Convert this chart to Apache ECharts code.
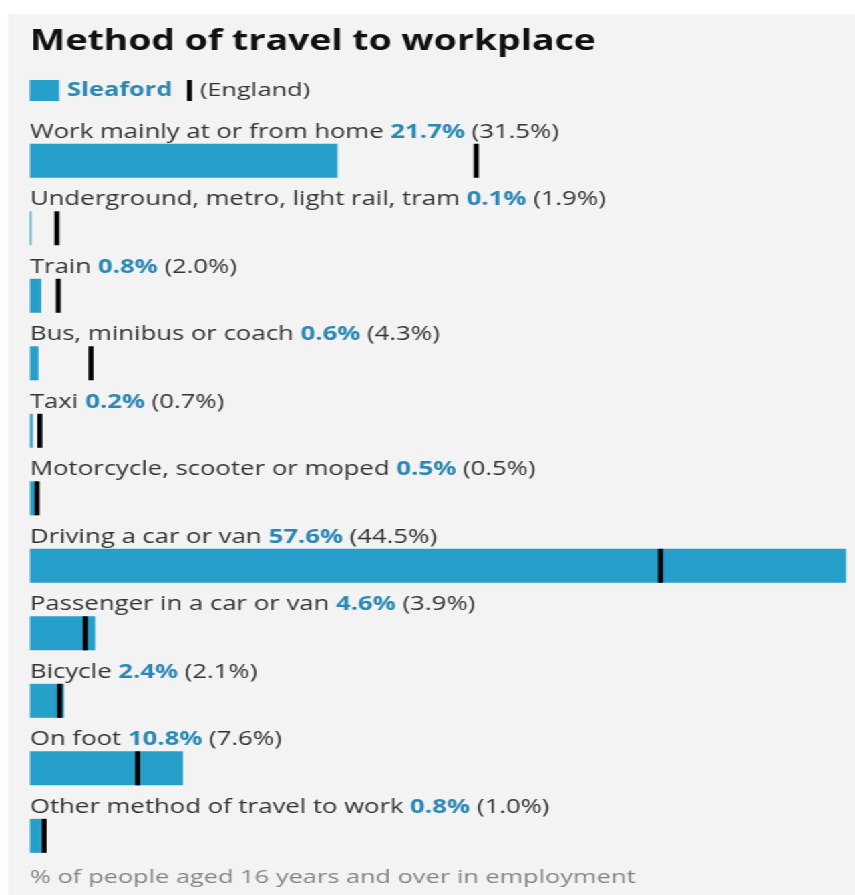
<!DOCTYPE html>
<html>
<head>
<meta charset="utf-8">
<script src="https://cdn.jsdelivr.net/npm/echarts@6/dist/echarts.min.js"></script>
<style>
html,body{margin:0;padding:0;background:#fff;overflow:hidden;width:855px;height:895px;}
#wrap{position:absolute;left:0;top:0;width:640px;height:895px;transform:scaleX(1.3359375);transform-origin:0 0;}
#bg{position:absolute;left:6px;top:14px;width:634px;height:881px;background:#f3f3f3;}
#chart{position:absolute;left:0;top:0;width:640px;height:895px;}
</style>
</head>
<body>
<div id="wrap">
<div id="bg"></div>
<div id="chart"></div>
</div>
<script>
const titleText = 'Method of travel to workplace';
const footerText = '% of people aged 16 years and over in employment';
const areaName = 'Sleaford';
const compareName = '(England)';
const categories = [
  'Work mainly at or from home',
  'Underground, metro, light rail, tram',
  'Train',
  'Bus, minibus or coach',
  'Taxi',
  'Motorcycle, scooter or moped',
  'Driving a car or van',
  'Passenger in a car or van',
  'Bicycle',
  'On foot',
  'Other method of travel to work'
];
const sleaford = [21.7, 0.1, 0.8, 0.6, 0.2, 0.5, 57.6, 4.6, 2.4, 10.8, 0.8];
const england = [31.5, 1.9, 2.0, 4.3, 0.7, 0.5, 44.5, 3.9, 2.1, 7.6, 1.0];

const BLUE = '#279fcb';
const TEXT_BLUE = '#2a87b3';
const FONT = '"Open Sans", sans-serif';

const chart = echarts.init(document.getElementById('chart'), null, {renderer: 'canvas'});
const maxVal = Math.max(...sleaford, ...england);

chart.setOption({
  animation: false,
  title: [
    {text: titleText, left: 22.5, top: 28, padding: 0,
     textStyle: {fontFamily: FONT, fontWeight: 'bold', fontSize: 28, color: '#111'}},
    {text: footerText, left: 22.5, top: 868, padding: 0,
     textStyle: {fontFamily: FONT, fontWeight: 'normal', fontSize: 19, color: '#858585'}}
  ],
  graphic: [
    {type: 'rect', left: 22.3, top: 80, shape: {width: 22, height: 21}, style: {fill: BLUE}},
    {type: 'text', left: 50.2, top: 81, style: {text: areaName, fill: TEXT_BLUE, font: 'bold 19px "Open Sans", sans-serif'}},
    {type: 'rect', left: 140, top: 80, shape: {width: 3.7, height: 21}, style: {fill: '#000'}},
    {type: 'text', left: 149.7, top: 81, style: {text: compareName, fill: '#333', font: '19px "Open Sans", sans-serif'}}
  ],
  grid: {left: 22.45, right: 6.7, top: 127, bottom: 25.4, containLabel: false},
  xAxis: {type: 'value', min: 0, max: maxVal, show: false},
  yAxis: {type: 'category', data: categories, inverse: true, show: false},
  series: [
    {
      type: 'bar',
      data: sleaford,
      barWidth: 34,
      itemStyle: {color: BLUE},
      label: {
        show: true,
        position: [0, -2],
        align: 'left',
        verticalAlign: 'bottom',
        formatter: p => '{n|' + p.name + ' }{v|' + p.value.toFixed(1) + '%}{e| (' + england[p.dataIndex].toFixed(1) + '%)}',
        rich: {
          n: {fontFamily: FONT, fontSize: 19.25, color: '#333'},
          v: {fontFamily: FONT, fontSize: 19.25, fontWeight: 'bold', color: TEXT_BLUE},
          e: {fontFamily: FONT, fontSize: 19.25, color: '#333'}
        }
      },
      z: 2
    },
    {
      type: 'scatter',
      data: england,
      symbol: 'rect',
      symbolSize: [3.75, 34],
      itemStyle: {color: '#000', opacity: 1},
      z: 3
    }
  ]
});
</script>
</body>
</html>
